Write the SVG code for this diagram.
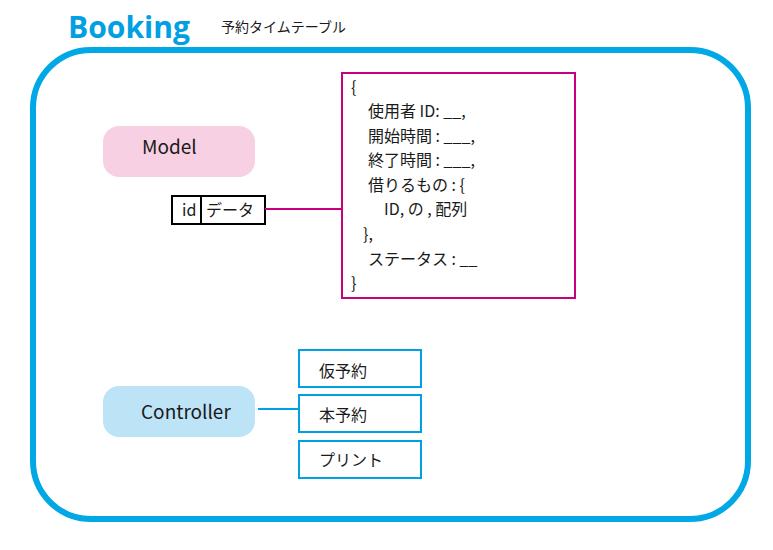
<svg xmlns="http://www.w3.org/2000/svg" width="773" height="550" viewBox="0 0 773 550">
<style>
text{font-family:"Noto Sans CJK JP","Noto Sans",sans-serif;fill:#1a1a1a}
.t{font-size:16px}
.pill{font-size:19px}
.mag{fill:none;stroke:#c6007e;stroke-width:2}
.blu{fill:#fff;stroke:#00a0e3;stroke-width:2}
</style>
<rect width="773" height="550" fill="#fff"/>
<g id="frame">
<rect x="33" y="50" width="715" height="469" rx="58" ry="58" fill="none" stroke="#00a8e6" stroke-width="6"/>
<text x="68" y="38" font-weight="bold" font-size="30" textLength="122" lengthAdjust="spacingAndGlyphs" style="fill:#00a0e3;font-family:'Open Sans',sans-serif">Booking</text>
<text x="221" y="32" font-size="14">予約タイムテーブル</text>
</g>
<g id="model">
<rect x="103" y="126" width="152" height="51" rx="16" fill="#f8d0e3"/>
<text x="142" y="154" class="pill">Model</text>
</g>
<g id="iddata">
<rect x="172" y="196" width="93" height="28" fill="#fff" stroke="#000" stroke-width="2"/>
<line x1="201" y1="196" x2="201" y2="224" stroke="#000" stroke-width="2"/>
<text x="182" y="216" class="t">id</text>
<text x="206" y="216" class="t">データ</text>
</g>
<g id="schema">
<rect x="342" y="73" width="233" height="225" class="mag" fill="#fff"/>
<text class="t" x="351" y="93">{</text>
<text class="t" x="368" y="117">使用者 ID: __,</text>
<text class="t" x="368" y="142">開始時間 : ___,</text>
<text class="t" x="368" y="166">終了時間 : ___,</text>
<text class="t" x="368" y="191">借りるもの : {</text>
<text class="t" x="384" y="215">ID, の , 配列</text>
<text class="t" x="363" y="240">},</text>
<text class="t" x="368" y="265">ステータス : __</text>
<text class="t" x="351" y="289">}</text>
</g>
<g id="controller">
<rect x="103" y="386" width="152" height="51" rx="16" fill="#bde3f7"/>
<text x="141" y="419" class="pill">Controller</text>
</g>
<g id="kari">
<rect x="299" y="350" width="122" height="37" class="blu"/>
<text x="319" y="377" class="t">仮予約</text>
</g>
<g id="hon">
<rect x="299" y="395" width="122" height="37" class="blu"/>
<text x="319" y="421" class="t">本予約</text>
</g>
<g id="print">
<rect x="299" y="441" width="122" height="37" class="blu"/>
<text x="319" y="466" class="t">プリント</text>
</g>
<g id="connectors">
<line x1="265" y1="209" x2="342" y2="209" stroke="#c6007e" stroke-width="2"/>
<line x1="258" y1="409" x2="299" y2="409" stroke="#00a0e3" stroke-width="2"/>
</g>
</svg>
